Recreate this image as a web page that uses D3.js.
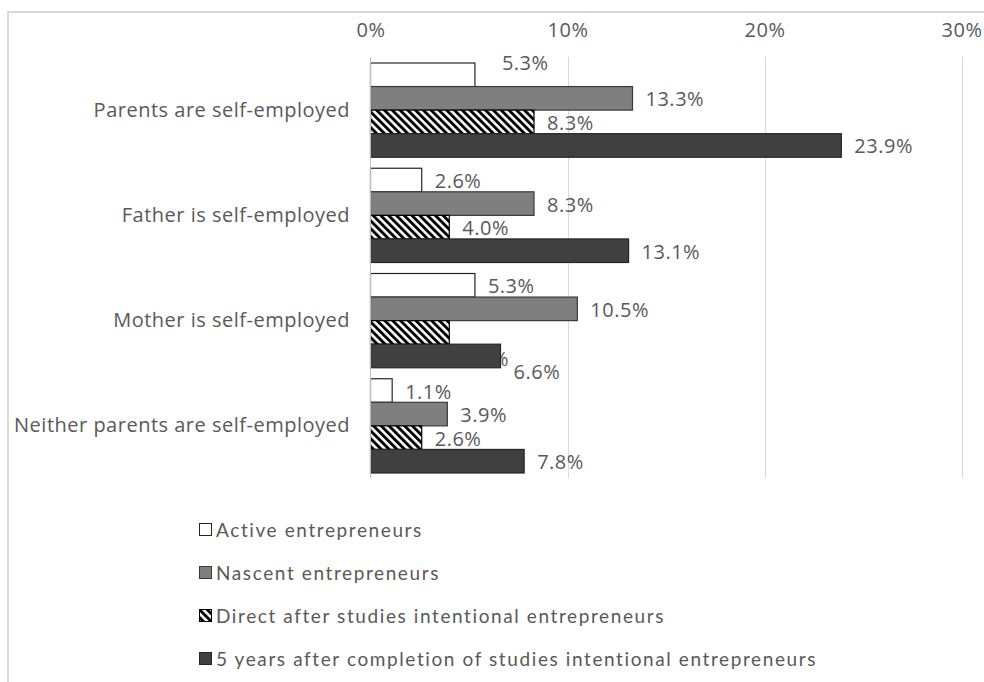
<!DOCTYPE html>
<html>
<head>
<meta charset="utf-8">
<script src="https://cdn.jsdelivr.net/npm/d3@7"></script>
<style>
  html, body { margin: 0; padding: 0; background: #fff; }
  svg { display: block; }
</style>
</head>
<body>
<svg id="chart" width="984" height="682"></svg>
<script>
// Share of respondents whose parents are self-employed, by entrepreneur group
const categories = [
  "Parents are self-employed",
  "Father is self-employed",
  "Mother is self-employed",
  "Neither parents are self-employed"
];
const seriesNames = [
  "Active entrepreneurs",
  "Nascent entrepreneurs",
  "Direct after studies intentional entrepreneurs",
  "5 years after completion of studies intentional entrepreneurs"
];
const activeValues   = [5.3, 2.6, 5.3, 1.1];
const nascentValues  = [13.3, 8.3, 10.5, 3.9];
const directValues   = [8.3, 4.0, 4.0, 2.6];
const fiveYearValues = [23.9, 13.1, 6.6, 7.8];
const tickValues = [0, 10, 20, 30];

const seriesValues = [activeValues, nascentValues, directValues, fiveYearValues];
const seriesKeys = ["active", "nascent", "direct", "five"];

const svg = d3.select("#chart");
const textColor = "#595959";
const font = "'Open Sans', sans-serif";
const fontSize = 20;
const spacing = 0.5;

// hatch for the "direct after studies" series
const defs = svg.append("defs");
const pat = defs.append("pattern")
  .attr("id", "hatch")
  .attr("patternUnits", "userSpaceOnUse")
  .attr("width", 5.5).attr("height", 5.5)
  .attr("patternTransform", "rotate(-45)");
pat.append("rect").attr("width", 5.5).attr("height", 5.5).attr("fill", "#fff");
pat.append("rect").attr("width", 2.9).attr("height", 5.5).attr("fill", "#000");

const fills = {
  active: "#ffffff",
  nascent: "#7f7f7f",
  direct: "url(#hatch)",
  five: "#404040"
};
const strokes = {
  active: "#262626",
  nascent: "#3a3a3a",
  direct: "#000000",
  five: "#262626"
};

// chart frame
svg.append("rect")
  .attr("x", 8).attr("y", 12).attr("width", 1000).attr("height", 700)
  .attr("fill", "none").attr("stroke", "#d9d9d9").attr("stroke-width", 2);

const x = d3.scaleLinear().domain([0, 30]).range([370.5, 961.5]);
const y = d3.scaleBand().domain(categories).range([57, 478]).padding(0);
const inner = d3.scaleBand().domain(seriesKeys)
  .range([6, y.bandwidth() - 5]).padding(0);

// gridlines
svg.append("g").selectAll("line")
  .data(tickValues.filter(t => t > 0))
  .join("line")
  .attr("x1", d => Math.round(x(d)) + 0.5).attr("x2", d => Math.round(x(d)) + 0.5)
  .attr("y1", 57).attr("y2", 478)
  .attr("stroke", "#d9d9d9").attr("stroke-width", 1);

// top axis labels
const xAxis = d3.axisTop(x).tickValues(tickValues)
  .tickFormat(d => d + "%").tickSize(0).tickPadding(0);
const gx = svg.append("g").attr("transform", "translate(0,37)").call(xAxis);
gx.select(".domain").remove();
gx.selectAll("text")
  .attr("fill", textColor).attr("font-family", font).attr("font-size", fontSize)
  .attr("letter-spacing", spacing)
  .attr("dy", 0);

// category labels
const yAxis = d3.axisLeft(y).tickSize(0).tickPadding(0);
const gy = svg.append("g").attr("transform", "translate(350,0)").call(yAxis);
gy.select(".domain").remove();
gy.selectAll("text")
  .attr("fill", textColor).attr("font-family", font).attr("font-size", fontSize)
  .attr("letter-spacing", spacing)
  .attr("dy", "0.35em");

// individual label nudges (series, category index, dx, dy)
const labelNudges = [
  { key: "active", i: 0, dx: 14, dy: -13 },
  { key: "direct", i: 2, dx: 0, dy: 26 },
  { key: "five", i: 2, dx: 0, dy: 15 }
];
function nudge(key, i) {
  const n = labelNudges.find(d => d.key === key && d.i === i);
  return n ? n : { dx: 0, dy: 0 };
}

const plot = svg.append("g");
seriesKeys.forEach((key, s) => {
  const vals = seriesValues[s];
  const rows = categories.map((c, i) => ({ c, i, v: vals[i] }));
  plot.append("g").selectAll("rect")
    .data(rows)
    .join("rect")
    .attr("x", x(0))
    .attr("y", d => y(d.c) + inner(key))
    .attr("width", d => x(d.v) - x(0))
    .attr("height", inner.bandwidth())
    .attr("fill", fills[key])
    .attr("stroke", strokes[key])
    .attr("stroke-width", 1.2);
  plot.append("g").selectAll("text")
    .data(rows)
    .join("text")
    .attr("x", d => x(d.v) + 13 + nudge(key, d.i).dx)
    .attr("y", d => y(d.c) + inner(key) + inner.bandwidth() / 2 + 1 + nudge(key, d.i).dy)
    .attr("dy", "0.35em")
    .attr("fill", textColor).attr("font-family", font).attr("font-size", fontSize)
    .attr("letter-spacing", spacing)
    .text(d => d.v.toFixed(1) + "%");
});

// vertical axis line at 0%
svg.append("line")
  .attr("x1", 370.5).attr("x2", 370.5).attr("y1", 57).attr("y2", 478)
  .attr("stroke", "#bfbfbf").attr("stroke-width", 1);

// legend
const legendY = d3.scalePoint().domain(seriesKeys).range([530, 659]);
const legend = svg.append("g");
seriesKeys.forEach((key, s) => {
  const ly = legendY(key);
  legend.append("rect")
    .attr("x", 199.5).attr("y", ly - 6.5).attr("width", 12).attr("height", 12)
    .attr("fill", fills[key]).attr("stroke", strokes[key]).attr("stroke-width", 1);
  legend.append("text")
    .attr("x", 216).attr("y", ly).attr("dy", "0.35em")
    .attr("fill", textColor).attr("font-family", "Lato, sans-serif")
    .attr("font-size", 19).attr("letter-spacing", 1.6)
    .text(seriesNames[s]);
});
</script>
</body>
</html>
